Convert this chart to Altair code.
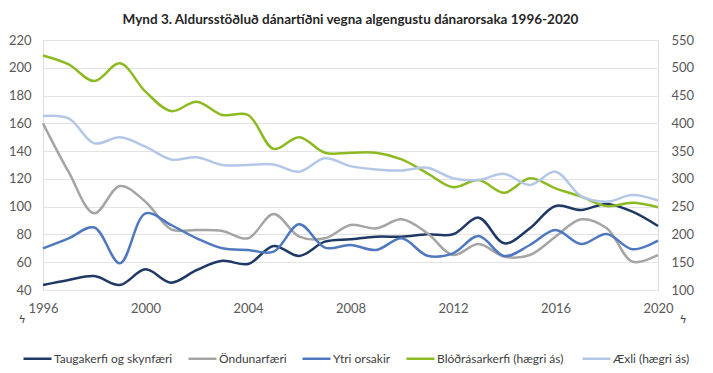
import altair as alt
import pandas as pd

years = list(range(1996, 2021))

# Left axis series
taugakerfi = [43.6, 47.2, 50.1, 43.6, 54.9, 45.3, 54.4, 61.0, 58.7, 71.7, 64.5, 74.8, 76.5,
              78.4, 78.4, 80.1, 80.1, 92.1, 73.6, 84.4, 100.5, 97.6, 102.0, 96.4, 86.1]
ondunarfaeri = [160.0, 125.0, 95.2, 114.9, 103.6, 83.7, 83.2, 82.5, 77.2, 94.7, 78.4, 77.2, 86.8,
                84.4, 90.9, 80.8, 65.2, 73.1, 64.0, 65.2, 78.4, 90.9, 84.4, 60.4, 65.2]
ytri = [70.0, 77.2, 85.0, 59.2, 95.2, 86.8, 77.2, 70.0, 68.8, 67.6, 87.3, 70.5, 72.4,
        68.8, 77.2, 64.7, 66.4, 78.9, 64.5, 72.4, 83.2, 73.1, 80.3, 69.3, 75.5]

# Right axis series
blodras = [522, 506, 476, 508, 457, 422, 439, 415, 415, 354, 375, 347, 347,
           347, 335, 310, 285, 298, 275, 301, 283, 268, 251, 257, 249]
aexli = [413, 409, 364, 375, 358, 335, 339, 325, 325, 326, 313, 337, 323,
         317, 315, 320, 301, 298, 309, 289, 313, 269, 259, 271, 261]

names = ["Taugakerfi og skynfæri", "Öndunarfæri", "Ytri orsakir",
         "Blóðrásarkerfi  (hægri ás)", "Æxli (hægri ás)"]
colors = ["#1F3864", "#A5A5A5", "#4F78BE", "#8DBA22", "#B4C7E7"]

left_rows = []
for nm, vals in zip(names[:3], [taugakerfi, ondunarfaeri, ytri]):
    for yr, v in zip(years, vals):
        left_rows.append({"year": yr, "value": v, "series": nm})
right_rows = []
for nm, vals in zip(names[3:], [blodras, aexli]):
    for yr, v in zip(years, vals):
        right_rows.append({"year": yr, "value": v, "series": nm})
left_df = pd.DataFrame(left_rows)
right_df = pd.DataFrame(right_rows)

FONT = "Lato"
LABEL_COLOR = "#595959"

x_enc = alt.X("year:Q", scale=alt.Scale(domain=[1996, 2020], nice=False, zero=False),
              axis=alt.Axis(values=[1996, 2000, 2004, 2008, 2012, 2016, 2020], format="d",
                            title=None, grid=False, domain=False, ticks=False,
                            labelFont=FONT, labelFontSize=13, labelColor=LABEL_COLOR,
                            labelPadding=12, labelFlush=False))

color_enc = alt.Color("series:N",
                      scale=alt.Scale(domain=names, range=colors),
                      legend=alt.Legend(title=None, orient="none", direction="horizontal",
                                        legendX=-21, legendY=303, columns=5,
                                        symbolType="stroke", symbolSize=784,
                                        symbolStrokeWidth=2.5, columnPadding=10,
                                        labelFont=FONT, labelFontSize=12,
                                        labelColor="#404040", labelOffset=1,
                                        labelLimit=300))

left = alt.Chart(left_df).mark_line(interpolate="catmull-rom", strokeWidth=2.5).encode(
    x=x_enc,
    y=alt.Y("value:Q", scale=alt.Scale(domain=[40, 220], nice=False, zero=False),
            axis=alt.Axis(values=list(range(40, 221, 20)), title=None, domain=False,
                          ticks=False, grid=True, gridColor="#E3E3E3", gridWidth=1,
                          labelFont=FONT, labelFontSize=13, labelColor=LABEL_COLOR,
                          labelPadding=12)),
    color=color_enc,
    order=alt.Order("year:Q"),
)

right = alt.Chart(right_df).mark_line(interpolate="catmull-rom", strokeWidth=2.5).encode(
    x=x_enc,
    y=alt.Y("value:Q", scale=alt.Scale(domain=[100, 550], nice=False, zero=False),
            axis=alt.Axis(values=list(range(100, 551, 50)), title=None, domain=False,
                          ticks=False, grid=False, orient="right",
                          labelFont=FONT, labelFontSize=13, labelColor=LABEL_COLOR,
                          labelPadding=13)),
    color=color_enc,
    order=alt.Order("year:Q"),
)

breaks = alt.Chart(pd.DataFrame({"sym": ["ϟ", "ϟ"], "px": [-21, 640]})).mark_text(
    font="DejaVu Sans", fontSize=11, color="#404040"
).encode(
    x=alt.X("px:Q", scale=None),
    y=alt.value(280),
    text="sym:N",
)

chart = alt.layer(left, right, breaks).resolve_scale(y="independent").properties(
    width=615,
    height=250,
    title=alt.TitleParams("Mynd 3. Aldursstöðluð dánartíðni vegna algengustu dánarorsaka 1996-2020",
                          font=FONT, fontSize=13.5, fontWeight="bold", color="#262626",
                          anchor="middle", offset=8),
    autosize=alt.AutoSizeParams(type="none"),
    padding={"left": 35, "top": 32, "right": 47, "bottom": 75},
).configure_view(stroke=None).configure(background="white")

chart.save("out.html", embed_options={"renderer": "svg", "actions": False})
